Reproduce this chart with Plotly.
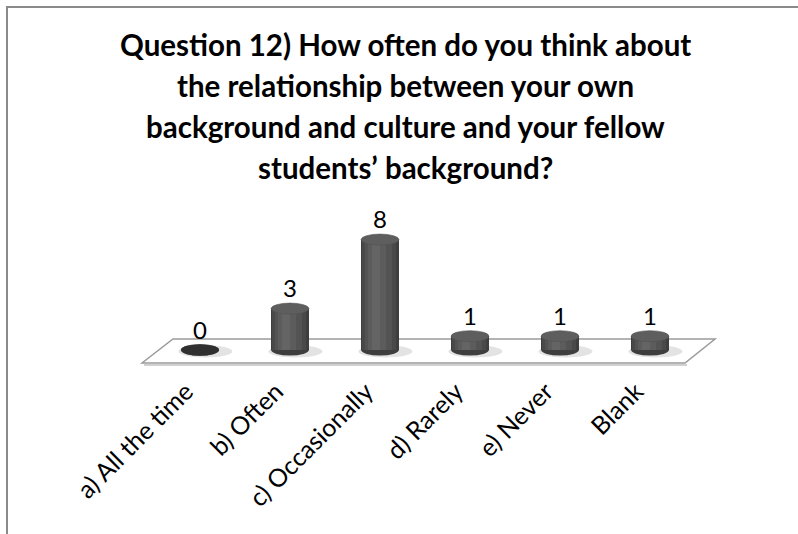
import plotly.graph_objects as go

# ---- data ----
categories = ["a) All the time", "b) Often", "c) Occasionally", "d) Rarely", "e) Never", "Blank"]
values = [0, 3, 8, 1, 1, 1]
title_lines = [
    "Question 12) How often do you think about",
    "the relationship between your own",
    "background and culture and your fellow",
    "students’ background?",
]

# ---- layout geometry ----
W, H = 798, 534
L, R, T, B = 110, 38, 200, 163
X_RANGE = [-1.0, 6.222]
Y_RANGE = [-1.522, 10.87]


def px(x):
    return (x - L) / (W - L - R)


def py(y):
    return (H - B - y) / (H - T - B)


idx = list(range(len(categories)))
BAR_W = 0.42
CAP_H = 0.40

fig = go.Figure()

# cylinder body: overlaid bars of decreasing width / increasing lightness
shades = [
    (0.42, 0.0, "#3e3e3e"),
    (0.37, -0.01, "#494949"),
    (0.30, -0.02, "#535353"),
    (0.20, -0.03, "#5c5c5c"),
    (0.09, -0.04, "#646464"),
]
for w, shift, c in shades:
    fig.add_trace(go.Bar(
        x=idx, y=values, width=w, offset=-w / 2 + shift,
        marker=dict(color=c, line=dict(width=0)),
        hoverinfo="skip", showlegend=False,
    ))

shapes = []
# chart border (top and left lines)
shapes.append(dict(type="line", xref="paper", yref="paper",
                   x0=px(6), x1=px(800), y0=py(7), y1=py(7),
                   line=dict(color="#8a8a8a", width=2), layer="below"))
shapes.append(dict(type="line", xref="paper", yref="paper",
                   x0=px(7), x1=px(7), y0=py(6), y1=py(536),
                   line=dict(color="#8a8a8a", width=2), layer="below"))
# floor (with faint shadow line under the front edge)
floor = [(142, 363), (173, 339), (715, 339), (685, 363)]
shadow = [(144, 365), (687, 365)]
shapes.append(dict(type="line", xref="paper", yref="paper",
                   x0=px(shadow[0][0]), y0=py(shadow[0][1]), x1=px(shadow[1][0]), y1=py(shadow[1][1]),
                   line=dict(color="#d0d0d0", width=2), layer="below"))
path = "M " + " L ".join(f"{px(a):.4f},{py(b):.4f}" for a, b in floor) + " Z"
shapes.append(dict(type="path", xref="paper", yref="paper", path=path,
                   fillcolor="white", line=dict(color="#9a9a9a", width=1.5), layer="below"))

for i, v in zip(idx, values):
    # soft shadow
    shapes.append(dict(type="circle", xref="x", yref="y",
                       x0=i - 0.30 + 0.06, x1=i + 0.30 + 0.06, y0=-0.55, y1=0.35,
                       fillcolor="#dcdcdc", opacity=0.8, line=dict(width=0), layer="below"))
    # rounded base
    shapes.append(dict(type="circle", xref="x", yref="y",
                       x0=i - BAR_W / 2, x1=i + BAR_W / 2, y0=-CAP_H, y1=CAP_H,
                       fillcolor="#3e3e3e", line=dict(width=0), layer="below"))
    # top cap
    shapes.append(dict(type="circle", xref="x", yref="y",
                       x0=i - BAR_W / 2, x1=i + BAR_W / 2, y0=v - CAP_H, y1=v + CAP_H,
                       fillcolor="#5e5e5e" if v > 0 else "#303030",
                       line=dict(color="#525252" if v > 0 else "#303030", width=0.6), layer="above"))

annotations = []
for i, v in zip(idx, values):
    annotations.append(dict(x=i, y=v, xref="x", yref="y", text=str(v), showarrow=False,
                            yshift=21, font=dict(family="Lato", size=24, color="black")))

# title lines
for k, line in enumerate(title_lines):
    annotations.append(dict(x=px(405), y=py(44 + 41.3 * k), xref="paper", yref="paper",
                            xanchor="center", yanchor="middle", showarrow=False, text=line,
                            font=dict(family="Lato", size=29.5, weight="bold", color="black")))

fig.update_layout(
    width=W, height=H,
    margin=dict(l=L, r=R, t=T, b=B),
    paper_bgcolor="white", plot_bgcolor="rgba(0,0,0,0)",
    barmode="overlay", bargap=0,
    showlegend=False,
    xaxis=dict(range=X_RANGE, tickmode="array", tickvals=idx, ticktext=categories,
               tickangle=-45, showgrid=False, zeroline=False, showline=False, ticks="",
               ticklabelshift=-14,
               tickfont=dict(family="Lato", size=25, color="black"), fixedrange=True),
    yaxis=dict(range=Y_RANGE, visible=False, fixedrange=True),
    shapes=shapes,
    annotations=annotations,
)

fig.write_html("out.html")
